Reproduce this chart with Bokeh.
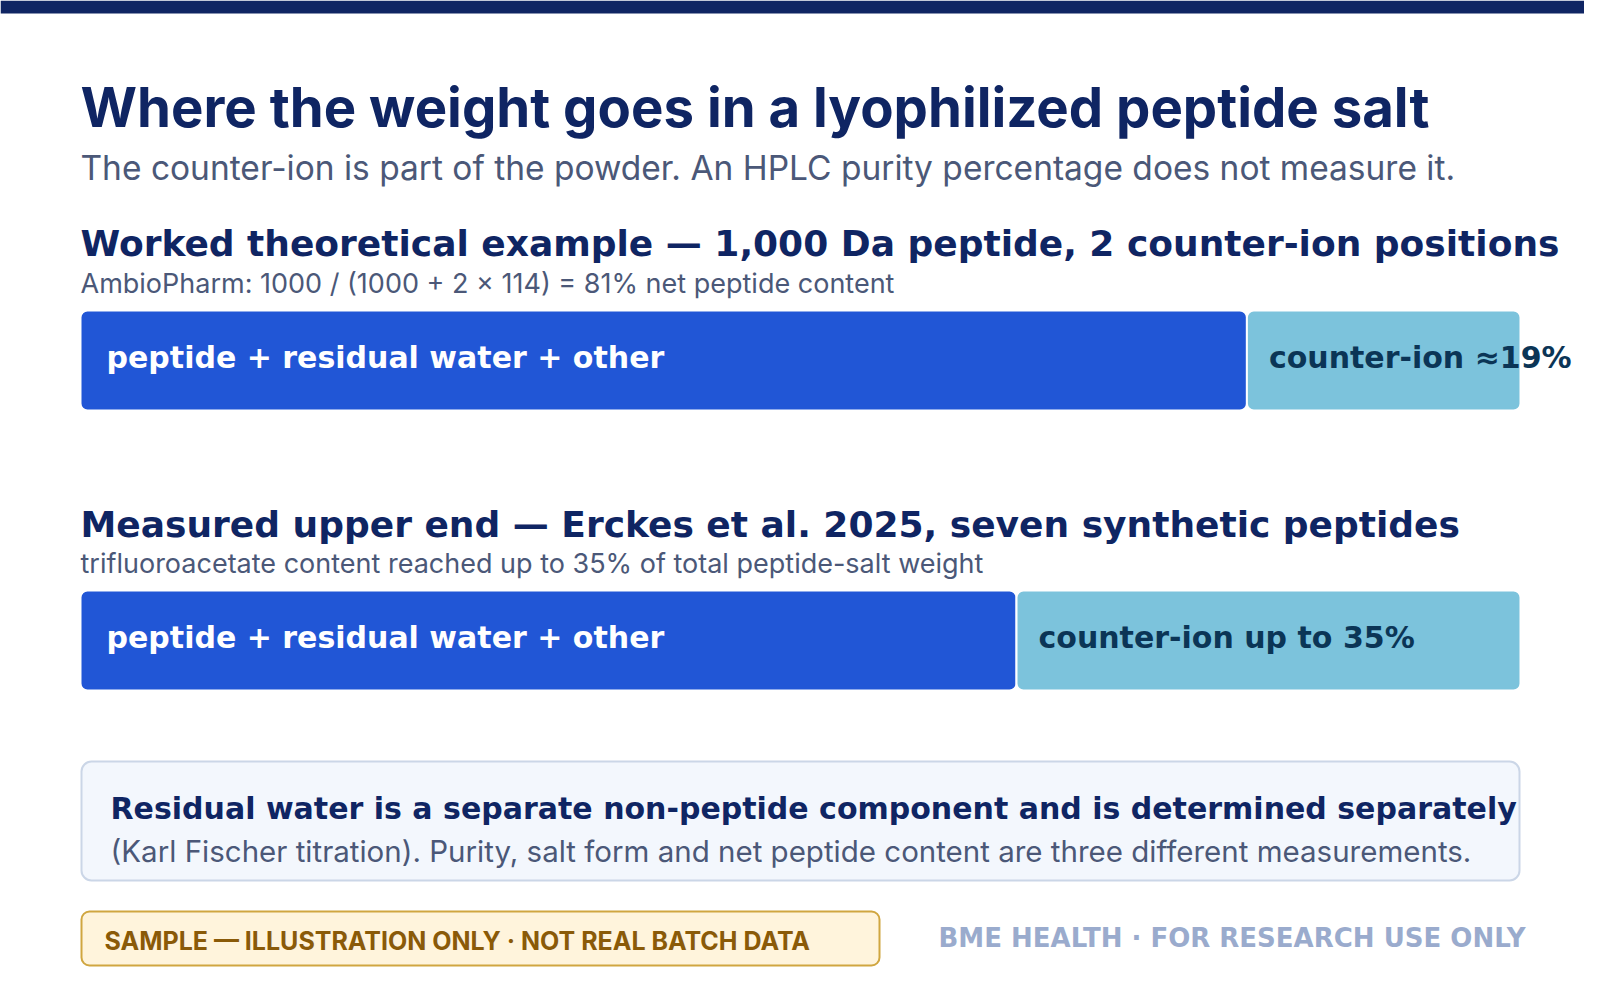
from bokeh.plotting import figure
from bokeh.models import Range1d
from bokeh.core.properties import value
from bokeh.embed import file_html
from bokeh.resources import INLINE

# ---- data ----
title = "Where the weight goes in a lyophilized peptide salt"
subtitle = "The counter-ion is part of the powder. An HPLC purity percentage does not measure it."
section_titles = ["Worked theoretical example \u2014 1,000 Da peptide, 2 counter-ion positions",
                  "Measured upper end \u2014 Erckes et al. 2025, seven synthetic peptides"]
section_notes = ["AmbioPharm: 1000 / (1000 + 2 \u00d7 114) = 81% net peptide content",
                 "trifluoroacetate content reached up to 35% of total peptide-salt weight"]
peptide_pct = [81, 65]
counter_pct = [19, 35]
peptide_labels = ["peptide + residual water + other", "peptide + residual water + other"]
counter_labels = ["counter-ion \u224819%", "counter-ion up to 35%"]
callout_bold = "Residual water is a separate non-peptide component and is determined separately"
callout_text = "(Karl Fischer titration). Purity, salt form and net peptide content are three different measurements."
badge_text = "SAMPLE \u2014 ILLUSTRATION ONLY \u00b7 NOT REAL BATCH DATA"
footer_text = "BME HEALTH \u00b7 FOR RESEARCH USE ONLY"

# ---- styles ----
NAVY = "#0f2563"
SLATE = "#4b5878"
BLUE = "#2156d6"
LIGHT = "#7cc3dc"
DARK_LABEL = "#0b3556"
SANS = "DejaVu Sans"
GEO = "Inter"

W, H = 1584, 984
p = figure(width=W, height=H, x_range=Range1d(0, W), y_range=Range1d(H, 0),
           x_axis_type=None, y_axis_type=None, toolbar_location=None,
           output_backend="svg", min_border=0, outline_line_color=None,
           background_fill_color="white", border_fill_color="white")
p.xgrid.visible = False
p.ygrid.visible = False
# percentage scale for the bars: 0% at x=80, 100% at x=1520
p.extra_x_ranges = {"pct": Range1d(-80 / 14.4, 100 + (W - 1520) / 14.4)}

# top band
p.quad(left=[0], right=[W], top=[0], bottom=[13], fill_color=NAVY, line_color=None)

def txt(x, y, s, size, color, font, bold=False, align="left"):
    p.text(x=[x], y=[y], text=[s], text_font=value(font), text_font_size=f"{size}px",
           text_font_style="bold" if bold else "normal", text_color=color,
           text_align=align, text_baseline="middle")

txt(80, 106, title, 54.5, NAVY, GEO, bold=True)
txt(80, 167, subtitle, 33.5, SLATE, GEO)

sec_mid = [243, 523.5]
note_mid = [282.5, 562.5]
bar_top = [310, 590]
bar_h = 100
for i in range(2):
    txt(80, sec_mid[i], section_titles[i], 36, NAVY, SANS, bold=True)
    txt(80, note_mid[i], section_notes[i], 27, SLATE, GEO)

# bars
left, right, top, bottom, colors = [], [], [], [], []
for i in range(2):
    left += [0, peptide_pct[i]]
    right += [peptide_pct[i], peptide_pct[i] + counter_pct[i]]
    top += [bar_top[i], bar_top[i]]
    bottom += [bar_top[i] + bar_h, bar_top[i] + bar_h]
    colors += [BLUE, LIGHT]
p.quad(left=left, right=right, top=top, bottom=bottom, fill_color=colors,
       line_color="white", line_width=2, border_radius=7, x_range_name="pct")

lab_mid = [b + 46.5 for b in bar_top]
p.text(x=[0, 0], y=lab_mid, text=peptide_labels, x_offset=26, x_range_name="pct",
       text_font=value(SANS), text_font_size="30px", text_font_style="bold",
       text_color="white", text_baseline="middle")
p.text(x=peptide_pct, y=lab_mid, text=counter_labels, x_offset=22, x_range_name="pct",
       text_font=value(SANS), text_font_size="30px", text_font_style="bold",
       text_color=DARK_LABEL, text_baseline="middle")

# callout box
p.quad(left=[81], right=[1519], top=[761], bottom=[880], fill_color="#f3f7fd",
       line_color="#cbd6e7", line_width=2, border_radius=10)
txt(110, 807.5, callout_bold, 30, NAVY, SANS, bold=True)
txt(110, 850.5, callout_text, 29.5, SLATE, GEO)

# badge
p.quad(left=[81], right=[879], top=[911], bottom=[965], fill_color="#fff4dc",
       line_color="#d0a640", line_width=2, border_radius=8)
txt(104, 940.5, badge_text, 25, "#8a5a08", GEO, bold=True)

# footer
txt(1525, 937.5, footer_text, 26, "#9aabcd", SANS, bold=True, align="right")

open("out.html", "w").write(file_html(p, INLINE))
